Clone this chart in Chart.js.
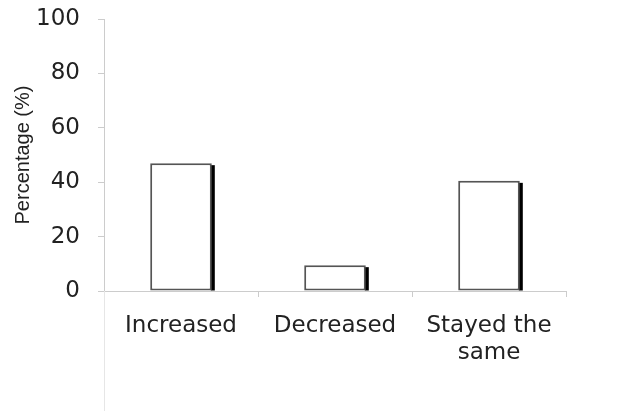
<!DOCTYPE html>
<html>
<head>
<meta charset="utf-8">
<script src="https://cdn.jsdelivr.net/npm/chart.js@4"></script>
<style>
  html, body { margin: 0; padding: 0; background: #fff; }
  #wrap { width: 642px; height: 416px; }
</style>
</head>
<body>
<div id="wrap"><canvas id="barChart" width="642" height="416"></canvas></div>
<script>
const categories = ['Increased', 'Decreased', ['Stayed the', 'same']];
const percentages = [47, 9.5, 40.5];
const yTicks = [0, 20, 40, 60, 80, 100];

// dark shadow on the right side of each bar + y axis line running down to the bottom
const barShadow = {
  id: 'barShadow',
  beforeDatasetsDraw(chart) {
    const c = chart.ctx;
    c.save();
    c.fillStyle = '#000';
    chart.getDatasetMeta(0).data.forEach(bar => {
      const right = bar.x + bar.width / 2;
      c.fillRect(right - 1, bar.y + 2, 4, bar.base - bar.y - 2);
    });
    c.restore();
  },
  afterDraw(chart) {
    const c = chart.ctx;
    const a = chart.chartArea;
    c.save();
    c.strokeStyle = '#e6e6e6';
    c.lineWidth = 1;
    c.beginPath();
    c.moveTo(a.left + 0.5, a.bottom);
    c.lineTo(a.left + 0.5, chart.height - 5);
    c.stroke();
    c.restore();
  }
};

const ctx = document.getElementById('barChart').getContext('2d');
new Chart(ctx, {
  type: 'bar',
  data: {
    labels: categories,
    datasets: [{
      data: percentages,
      backgroundColor: '#fff',
      borderColor: '#555',
      borderWidth: 2,
      borderSkipped: false,
      categoryPercentage: 1,
      barPercentage: 0.4
    }]
  },
  options: {
    responsive: false,
    animation: false,
    layout: { padding: { top: 19, right: 76, bottom: 0, left: 0 } },
    plugins: { legend: { display: false }, tooltip: { enabled: false } },
    scales: {
      x: {
        offset: true,
        grid: { offset: true, drawOnChartArea: false, tickLength: 6, color: '#ccc' },
        border: { color: '#ccc', width: 1 },
        ticks: { color: '#222', padding: 15, maxRotation: 0, font: { family: 'DejaVu Sans', size: 23 } },
        afterFit(scale) { scale.height = 125; scale.paddingLeft = 0; scale.paddingRight = 0; }
      },
      y: {
        min: 0,
        max: 100,
        afterBuildTicks(scale) { scale.ticks = yTicks.map(v => ({ value: v })); },
        grid: { drawOnChartArea: false, tickLength: 6, color: '#ccc' },
        border: { color: '#ccc', width: 1 },
        ticks: { color: '#222', padding: 18, font: { family: 'DejaVu Sans', size: 23 } },
        title: {
          display: true,
          text: 'Percentage (%)',
          color: '#222',
          padding: { top: 11, bottom: 0 },
          font: { family: 'Liberation Sans', size: 20 }
        },
        afterFit(scale) { scale.width = 104; scale.paddingTop = 0; scale.paddingBottom = 0; }
      }
    }
  },
  plugins: [barShadow]
});
</script>
</body>
</html>
